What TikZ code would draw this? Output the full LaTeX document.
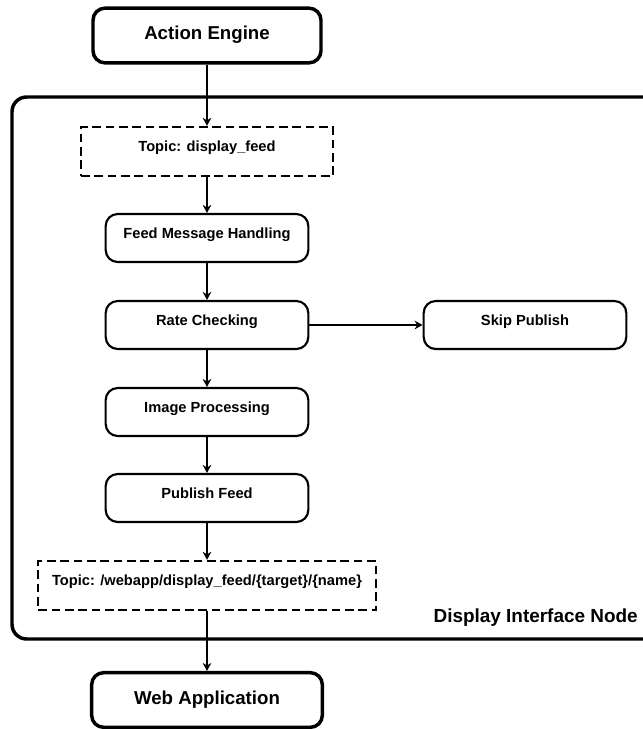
\documentclass[tikz,border=0pt]{standalone}
\usepackage{fontspec}
\setmainfont{Liberation Sans}
\usetikzlibrary{arrows.meta}

\tikzset{
  endbox/.style={draw, line width=2.6pt, rounded corners=9pt, minimum width=171pt, minimum height=41pt,
    text height=11pt, text depth=5pt, font=\bfseries\fontsize{14}{16}\selectfont},
  stagebox/.style={draw, line width=1.6pt, rounded corners=9pt, minimum width=152pt, minimum height=36pt,
    text height=8pt, text depth=8pt, font=\bfseries\fontsize{11}{13}\selectfont},
  topicbox/.style={draw, line width=1.6pt, dash pattern=on 6.5pt off 3.5pt, minimum height=37pt,
    text height=8pt, text depth=8pt, font=\bfseries\fontsize{11}{13}\selectfont},
  flow/.style={-{Stealth[length=6pt,width=6.5pt]}, line width=1.2pt}
}

\begin{document}
\begin{tikzpicture}[x=0.75pt,y=-0.75pt]
\clip (0,0) rectangle (643,729);
\draw[line width=2.6pt, rounded corners=11pt] (12,97) rectangle (700,639);
\path(207,35.5) node[endbox] (engine) {Action Engine};
\path(207,151.5) node[topicbox, minimum width=189pt] (feedtopic) {Topic: display\_feed};
\path(207,238) node[stagebox] (handling) {Feed Message Handling};
\path(207,325) node[stagebox] (rate) {Rate Checking};
\path(525,325) node[stagebox] (skip) {Skip Publish};
\path(207,412) node[stagebox] (image) {Image Processing};
\path(207,498) node[stagebox] (publish) {Publish Feed};
\path(207,585.5) node[topicbox, minimum width=253pt] (webtopic) {Topic: /webapp/display\_feed/\{target\}/\{name\}};
\path(207,700) node[endbox, minimum width=173pt] (webapp) {Web Application};
\path(638,622) node[anchor=base east, inner sep=0pt, font=\bfseries\fontsize{14.2}{16}\selectfont] (nodelabel) {Display Interface Node};
\draw[flow] (engine) -- (feedtopic);
\draw[flow] (feedtopic) -- (handling);
\draw[flow] (handling) -- (rate);
\draw[flow] (rate) -- (image);
\draw[flow] (image) -- (publish);
\draw[flow] (publish) -- (webtopic);
\draw[flow] (webtopic) -- (webapp);
\draw[flow] (rate) -- (skip);
\end{tikzpicture}
\end{document}
